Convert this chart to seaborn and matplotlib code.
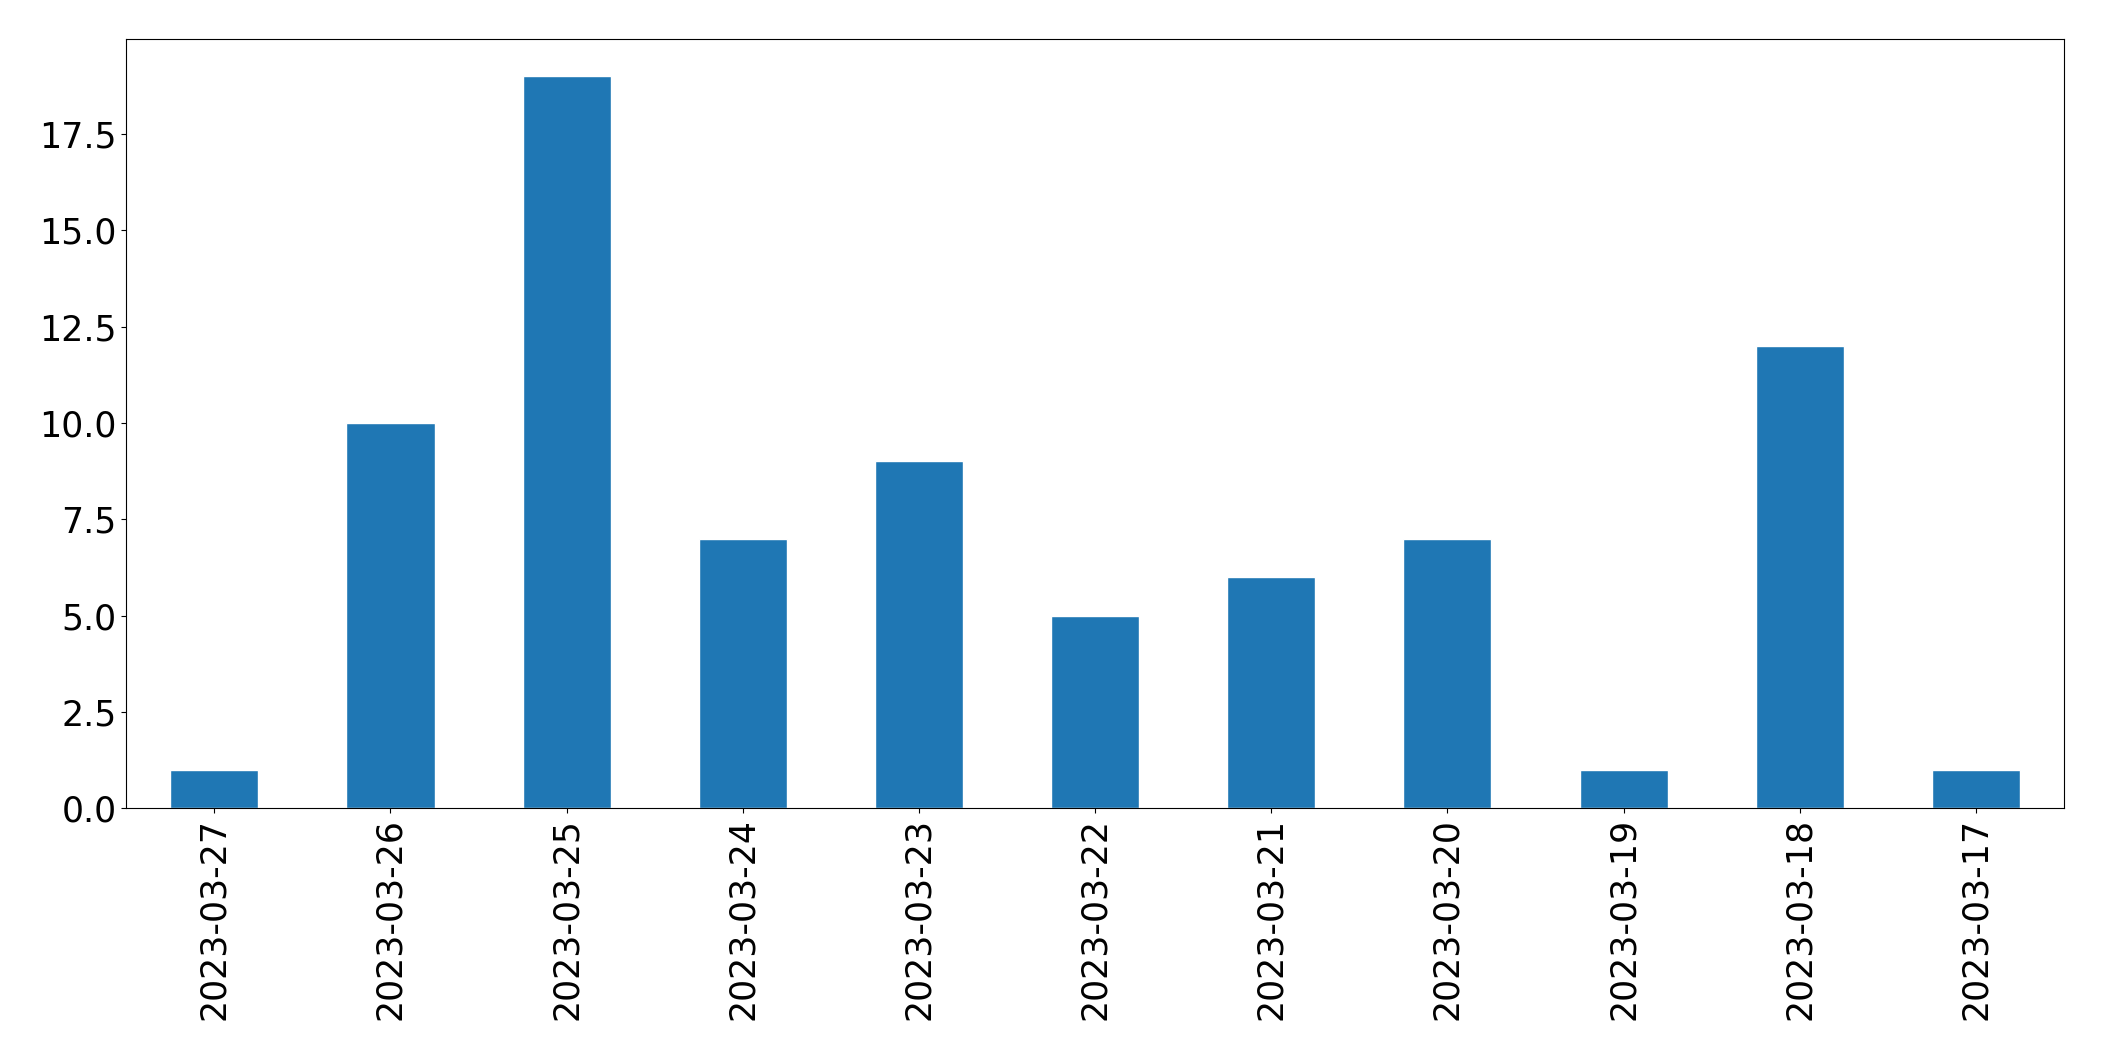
import pandas as pd
import numpy as np
import matplotlib.pyplot as plt
import seaborn as sns

dates = ['2023-03-27', '2023-03-26', '2023-03-25', '2023-03-24', '2023-03-23',
         '2023-03-22', '2023-03-21', '2023-03-20', '2023-03-19', '2023-03-18',
         '2023-03-17']
counts = [1, 10, 19, 7, 9, 5, 6, 7, 1, 12, 1]

df = pd.DataFrame({'date': dates, 'count': counts})

sns.set_style('ticks')
plt.rcParams['font.family'] = ['DejaVu Sans']

fig, ax = plt.subplots(figsize=(21.04, 10.61), dpi=100)
sns.barplot(x='date', y='count', data=df, order=dates, color='#1f77b4',
            saturation=1, width=0.5, ax=ax)
ax.set_xlim(-0.5, len(dates) - 0.5)
ax.set_ylim(0, max(counts) * 1.05)
ax.set_xlabel('')
ax.set_ylabel('')
ax.tick_params(axis='both', labelsize=25, colors='black')
ax.tick_params(axis='x', rotation=90)
for s in ax.spines.values():
    s.set_visible(True)
    s.set_linewidth(0.8)
    s.set_color('black')
plt.subplots_adjust(left=0.06, right=0.981, top=0.963, bottom=0.238)
plt.savefig('out.png')
